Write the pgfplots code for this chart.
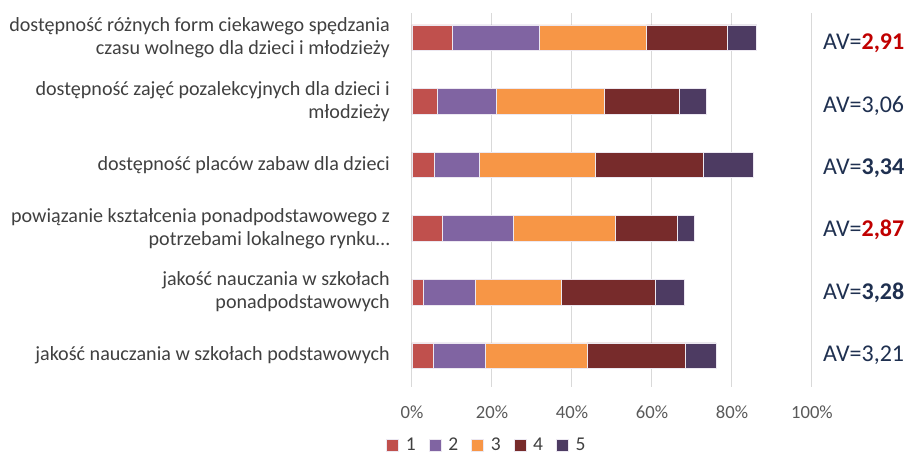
\documentclass[border=0pt]{standalone}
\usepackage{pgfplots}
\pgfplotsset{compat=1.18}
\usepackage{pgfplotstable}
\usepackage{fontspec}
\setmainfont{Carlito}
\definecolor{c1}{HTML}{C0504D}
\definecolor{c2}{HTML}{8064A2}
\definecolor{c3}{HTML}{F79646}
\definecolor{c4}{HTML}{772B2B}
\definecolor{c5}{HTML}{4D3B62}
\definecolor{lbl}{HTML}{404040}
\definecolor{tck}{HTML}{595959}
\definecolor{avc}{HTML}{1F3050}
\definecolor{avr}{HTML}{C00000}
\pgfplotstableread{
y s1 s2 s3 s4 s5
0 5.4 13.0 25.4 24.5 7.7
1 2.8 13.0 21.5 23.5 7.2
2 7.7 17.7 25.5 15.5 4.2
3 5.6 11.2 29.1 27.0 12.5
4 6.4 14.6 27.2 18.7 6.7
5 10.0 21.8 26.8 20.3 7.3
}\data
\begin{document}
\begin{tikzpicture}
\useasboundingbox (-412pt,-70pt) rectangle (501pt,387pt);
\begin{axis}[
  scale only axis,
  width=400pt, height=374pt,
  xbar stacked,
  bar width=25.5pt,
  xmin=0, xmax=100,
  ymin=-0.492, ymax=5.388,
  xtick={0,20,40,60,80,100},
  xticklabels={0\%,20\%,40\%,60\%,80\%,100\%},
  ytick={0,1,2,3,4,5},
  yticklabels={
    jakość nauczania w szkołach podstawowych,
    {jakość nauczania w szkołach\\ponadpodstawowych},
    {powiązanie kształcenia ponadpodstawowego z\\potrzebami lokalnego rynku…},
    dostępność placów zabaw dla dzieci,
    {dostępność zajęć pozalekcyjnych dla dzieci i\\młodzieży},
    {dostępność różnych form ciekawego spędzania\\czasu wolnego dla dzieci i młodzieży}
  },
  yticklabel style={align=right, anchor=east, inner sep=0pt, xshift=-22pt,
    font=\fontsize{20.1}{23}\selectfont, text=lbl},
  xticklabel style={anchor=base, inner sep=0pt, yshift=-32pt,
    font=\fontsize{18.6}{22}\selectfont, text=tck},
  axis line style={draw=none},
  tick style={draw=none},
  xmajorgrids,
  major grid style={draw=black!15, line width=1pt},
  legend style={draw=none, fill=none, legend columns=-1,
    at={(axis description cs:-0.0725,-0.155)}, anchor=west,
    nodes={inner sep=0pt, text=lbl, font=\fontsize{19.5}{22}\selectfont},
    /tikz/every odd column/.append style={column sep=7pt},
    /tikz/every even column/.append style={column sep=13pt}},
  legend image code/.code={\fill[#1] (0pt,-6pt) rectangle (12pt,6pt);},
  every axis plot/.append style={draw=white!85!c2, line width=0.6pt},
]
\addplot[fill=c1] table[x=s1,y=y]{\data};
\addplot[fill=c2] table[x=s2,y=y]{\data};
\addplot[fill=c3] table[x=s3,y=y]{\data};
\addplot[fill=c4] table[x=s4,y=y]{\data};
\addplot[fill=c5] table[x=s5,y=y]{\data};
\legend{1,2,3,4,5}
\end{axis}
\begin{scope}[every node/.style={anchor=base west, inner sep=0pt, text=avc,
  font=\fontsize{24}{28}\selectfont}]
\node at (411pt,337pt) {AV=\textcolor{avr}{\textbf{2,91}}};
\node at (411pt,274pt) {AV=3,06};
\node at (411pt,212pt) {AV=\textbf{3,34}};
\node at (411pt,150pt) {AV=\textcolor{avr}{\textbf{2,87}}};
\node at (411pt,87pt) {AV=\textbf{3,28}};
\node at (411pt,25pt) {AV=3,21};
\end{scope}
\end{tikzpicture}
\end{document}
